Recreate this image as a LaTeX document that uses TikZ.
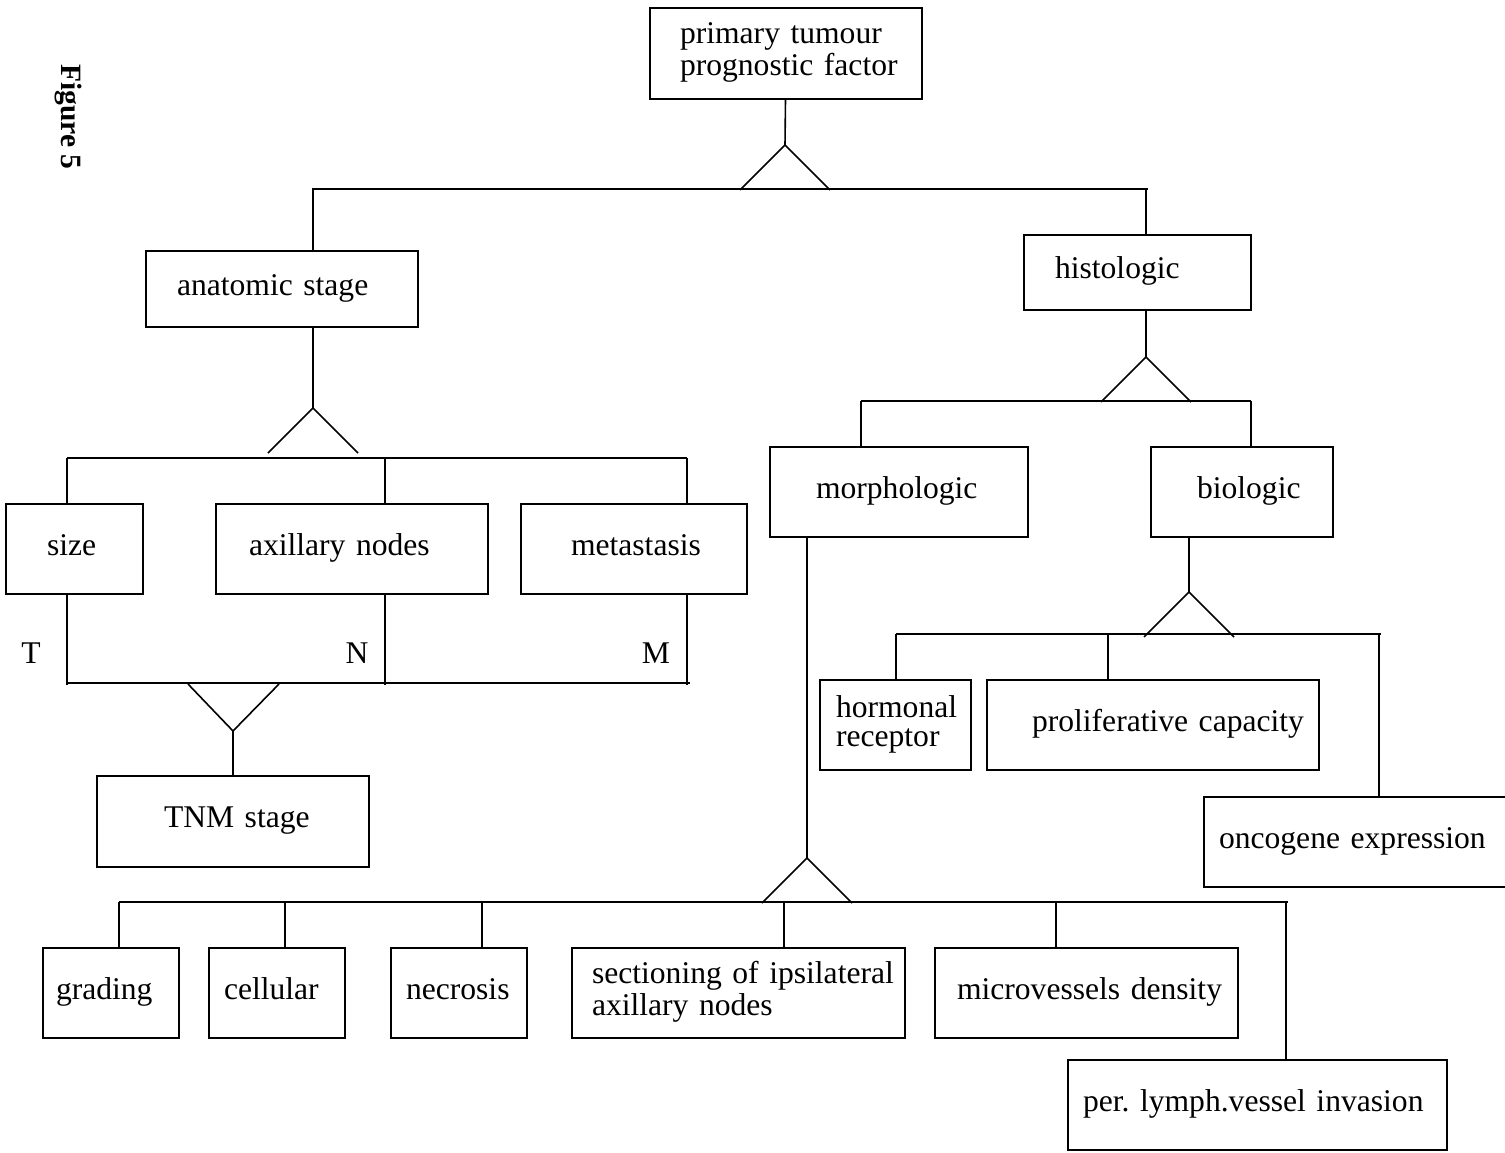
\documentclass[tikz,border=0pt]{standalone}
\usepackage{fontspec}
\setmainfont{Liberation Serif}
\tikzset{
 blk/.style n args={3}{draw, anchor=north west, outer sep=0pt, inner sep=0pt,
  text width=#1pt, minimum height=#2pt, align=left,
  execute at begin node={\leftskip=#3pt\relax\frenchspacing\strut},
  execute at end node={\strut}}
}
\begin{document}
\begin{tikzpicture}[x=1pt, y=-1pt, line width=1.6pt, font=\fontsize{31.6}{32}\selectfont]
 \useasboundingbox (0,0) rectangle (1505,1152);
 \node[rotate=-90, anchor=base, font=\fontsize{29.5}{30}\selectfont\bfseries] (fig) at (61,117) {Figure 5};
 \node[blk={272}{91}{30}] (prim) at (650,8) {primary tumour\\prognostic factor};
 \node[blk={272}{76}{31}] (anat) at (146,251) {anatomic stage};
 \node[blk={227}{75}{31}] (hist) at (1024,235) {histologic};
 \node[blk={258}{90}{46}] (morph) at (770,447) {morphologic};
 \node[blk={182}{90}{46}] (bio) at (1151,447) {biologic};
 \node[blk={137}{90}{41}] (size) at (6,504) {size};
 \node[blk={272}{90}{33}] (axil) at (216,504) {axillary nodes};
 \node[blk={226}{90}{50}] (meta) at (521,504) {metastasis};
 \node[blk={272}{91}{67}] (tnm) at (97,776) {TNM stage};
 \node[blk={151}{90}{16}, font=\fontsize{31.6}{29}\selectfont] (horm) at (820,680) {hormonal\\receptor};
 \node[blk={332}{90}{45}] (prol) at (987,680) {proliferative capacity};
 \node[blk={302}{90}{15}] (onco) at (1204,797) {oncogene expression};
 \node[blk={136}{90}{13}] (grad) at (43,948) {grading};
 \node[blk={136}{90}{15}] (cell) at (209,948) {cellular};
 \node[blk={136}{90}{15}] (necr) at (391,948) {necrosis};
 \node[blk={333}{90}{20}] (sect) at (572,948) {sectioning of ipsilateral\\axillary nodes};
 \node[blk={303}{90}{22}] (micro) at (935,948) {microvessels density};
 \node[blk={379}{90}{15}] (lymph) at (1068,1060) {per. lymph.vessel invasion};
 \node[anchor=base] (tl) at (31,663) {T};
 \node[anchor=base] (nl) at (357,663) {N};
 \node[anchor=base] (ml) at (656,663) {M};
 \coordinate (k0) at (785,145);
 \coordinate (k1) at (313,408);
 \coordinate (k2) at (233,731);
 \coordinate (k3) at (1146,357);
 \coordinate (k4) at (1189,592);
 \coordinate (k5) at (807,858);
 \foreach \k in {k0,k1,k3,k4,k5}{
 \draw ([shift={(-45,45)}]\k) -- (\k) -- ([shift={(45,45)}]\k);}
 \draw ([shift={(-45,-47)}]k2) -- (k2) -- ([shift={(46,-47)}]k2);
 \coordinate (a1) at (313,189);
 \coordinate (a2) at (1146,189);
 \draw (prim) -- (k0);
 \draw (anat.north -| a1) -- (a1) -- ([xshift=2pt]a2);
 \draw (a2) -- (hist.north -| a2);
 \draw (anat.south -| k1) -- (k1);
 \coordinate (b1) at (67,458);
 \coordinate (b2) at (385,458);
 \coordinate (b3) at (687,458);
 \draw (b1) -- (b3);
 \foreach \c/\n in {b1/size,b2/axil,b3/meta}{
 \draw (\c) -- (\c |- \n.north);}
 \coordinate (c1) at (67,683);
 \coordinate (c2) at (385,683);
 \coordinate (c3) at (687,683);
 \draw (c1) -- ([xshift=3pt]c3);
 \foreach \c/\n in {c1/size,c2/axil,c3/meta}{
 \draw (\n.south -| \c) -- ([yshift=-2pt]\c);}
 \draw (k2) -- (tnm);
 \draw (hist.south -| k3) -- (k3);
 \coordinate (d1) at (861,401);
 \coordinate (d2) at (1251,401);
 \draw (d1) -- (d2);
 \draw (d1) -- (d1 |- morph.north);
 \draw (d2) -- (d2 |- bio.north);
 \draw (bio.south -| k4) -- (k4);
 \coordinate (e1) at (896,634);
 \coordinate (e2) at (1108,634);
 \coordinate (e3) at (1379,634);
 \draw (e1) -- ([xshift=2pt]e3);
 \foreach \c/\n in {e1/horm,e2/prol,e3/onco}{
 \draw (\c) -- (\c |- \n.north);}
 \draw (morph.south -| k5) -- (k5);
 \coordinate (f1) at (119,902);
 \coordinate (f2) at (285,902);
 \coordinate (f3) at (482,902);
 \coordinate (f4) at (784,902);
 \coordinate (f5) at (1056,902);
 \coordinate (f6) at (1286,902);
 \draw (f1) -- ([xshift=2pt]f6);
 \foreach \c/\n in {f1/grad,f2/cell,f3/necr,f4/sect,f5/micro,f6/lymph}{
 \draw (\c) -- (\c |- \n.north);}
\end{tikzpicture}
\end{document}
